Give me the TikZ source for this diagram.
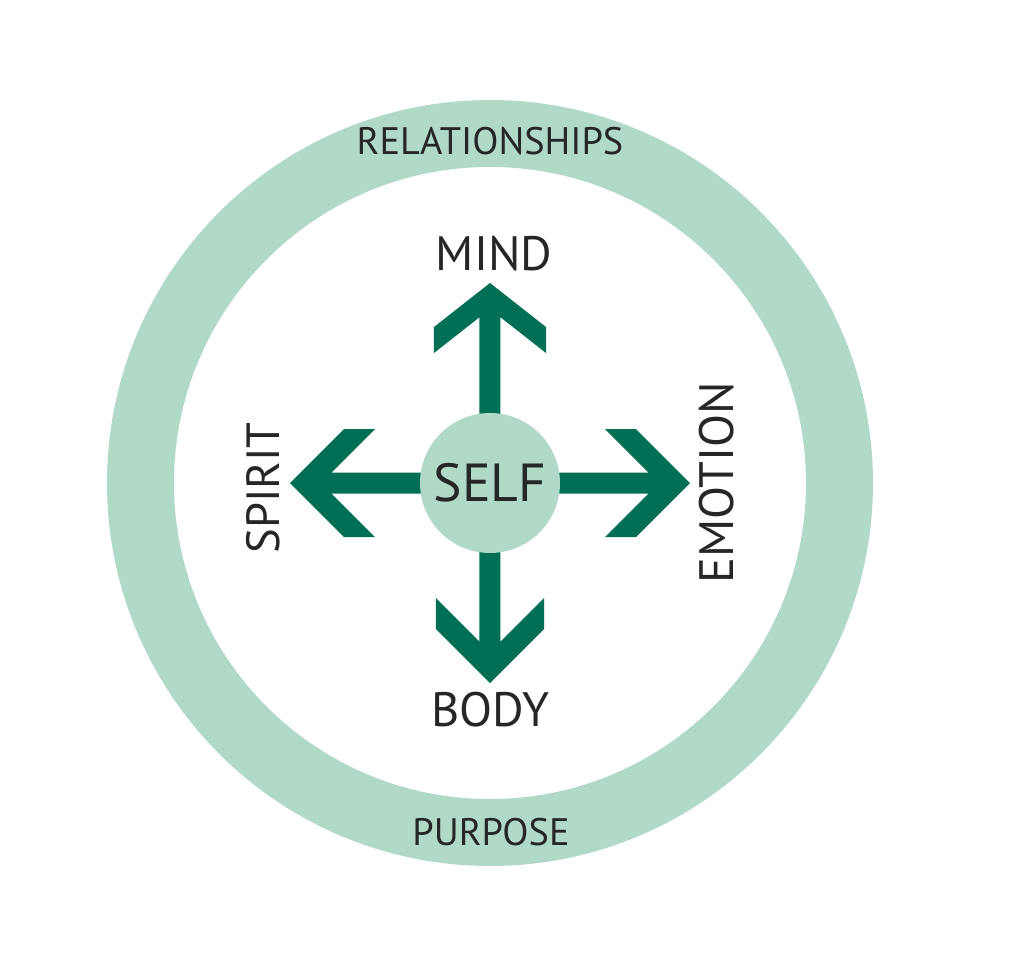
\documentclass[tikz,border=0pt]{standalone}
\usepackage{fontspec}
\setmainfont{PT Sans}
\usetikzlibrary{calc}
\definecolor{ringmint}{HTML}{B1D9C8}
\definecolor{arrowgreen}{HTML}{006F56}
\definecolor{labelgrey}{HTML}{262626}

\begin{document}
\begin{tikzpicture}[x=0.02cm, y=0.02cm, line join=miter,
  ringlabel/.style={text=labelgrey, inner sep=0pt, font=\fontsize{21.8}{24}\selectfont},
  armlabel/.style={text=labelgrey, inner sep=0pt, font=\fontsize{27.5}{30}\selectfont},
  selfdisc/.style={circle, fill=ringmint, minimum size=2.8cm, inner sep=0pt, text=labelgrey, font=\fontsize{30.5}{34}\selectfont}]
  \useasboundingbox (-490,-471) rectangle (534,483);
  \coordinate (centre) at (0,0);
  %--- Outer ring
    \draw[ringmint, line width=1.34cm] (centre) circle (349.5);
    \node[ringlabel] (relations) at (0,342) {RELATIONSHIPS};
    \node[ringlabel] (purpose) at (1,-349) {PURPOSE};
  %--- Arms (angle / head length / cut / half width)
    \foreach \ang/\a/\c/\w in {90/44/26/56, 0/54/31/54, 180/54/31/54, 270/54/31/54}
      \fill[arrowgreen, rotate=\ang] (0,-10.5) -- ({200-\a-\c+(\w-10.5)*\a/\w},-10.5)
        -- ({200-\a-\c},-\w) -- ({200-\a},-\w) -- (200,0) -- ({200-\a},\w)
        -- ({200-\a-\c},\w) -- ({200-\a-\c+(\w-10.5)*\a/\w},10.5) -- (0,10.5) -- cycle;
  %--- Self
    \node[selfdisc] (self) at (centre) {SELF};
  %--- Arm labels
    \node[armlabel] (mind) at (4,229) {MIND};
    \node[armlabel] (body) at (0,-227) {BODY};
    \node[armlabel, rotate=90, font=\fontsize{26.5}{30}\selectfont] (spirit) at (-227,-5) {SPIRIT};
    \node[armlabel, rotate=90] (emotion) at (227,0) {EMOTION};
\end{tikzpicture}
\end{document}
